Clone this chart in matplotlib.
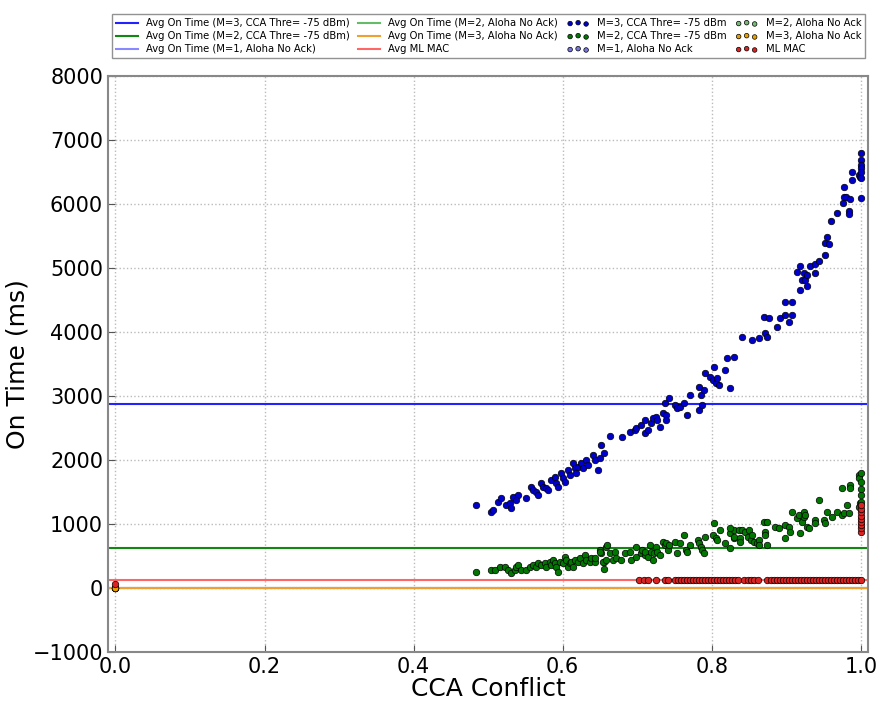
import numpy as np
import matplotlib.pyplot as plt

# Average on-time lines (ms)
avg_m3_cca = 2875
avg_m2_cca = 625
avg_m1_aloha = 0
avg_m2_aloha = 0
avg_m3_aloha = 0
avg_ml = 125

# M=3, CCA Thre= -75 dBm
m3_cca_x = [0.484, 0.504, 0.507, 0.513, 0.517, 0.524, 0.529, 0.531, 0.533, 0.540, 0.537, 0.551, 0.557, 0.560,
            0.564, 0.567, 0.571, 0.574, 0.578, 0.580, 0.584, 0.590, 0.591, 0.594, 0.598, 0.600, 0.603, 0.607,
            0.610, 0.614, 0.616, 0.618, 0.620, 0.624, 0.627, 0.631, 0.634, 0.640, 0.643, 0.647, 0.650, 0.651,
            0.656, 0.663, 0.680, 0.690, 0.697, 0.698, 0.705, 0.710, 0.711, 0.714, 0.718, 0.721, 0.725, 0.727,
            0.731, 0.734, 0.738, 0.738, 0.737, 0.743, 0.750, 0.754, 0.758, 0.763, 0.767, 0.771, 0.783, 0.785,
            0.790, 0.783, 0.787, 0.791, 0.798, 0.801, 0.803, 0.805, 0.807, 0.810, 0.818, 0.821, 0.824, 0.830,
            0.841, 0.854, 0.864, 0.872, 0.874, 0.870, 0.877, 0.888, 0.892, 0.898, 0.898, 0.904, 0.908, 0.908,
            0.914, 0.918, 0.918, 0.921, 0.924, 0.925, 0.928, 0.928, 0.932, 0.939, 0.939, 0.944, 0.952, 0.952,
            0.955, 0.957, 0.960, 0.968, 0.976, 0.977, 0.980, 0.984, 0.984, 0.985, 0.977, 0.988, 0.988, 0.997,
            0.999, 1.000, 1.000, 1.000, 1.000, 1.000, 1.000, 1.000, 0.0]
m3_cca_y = [1297, 1188, 1219, 1344, 1406, 1297, 1328, 1250, 1422, 1453, 1375, 1406, 1578, 1531,
            1500, 1453, 1641, 1578, 1562, 1531, 1688, 1734, 1641, 1578, 1797, 1719, 1656, 1844,
            1766, 1953, 1875, 1797, 1891, 1953, 1875, 2000, 1922, 2078, 2000, 1844, 2031, 2234,
            2109, 2375, 2359, 2438, 2469, 2500, 2547, 2625, 2422, 2469, 2578, 2656, 2672, 2625,
            2516, 2734, 2703, 2625, 2891, 2969, 2859, 2812, 2828, 2891, 2703, 3016, 3141, 3016,
            3094, 2781, 2859, 3359, 3297, 3250, 3453, 3203, 3281, 3172, 3406, 3594, 3125, 3609,
            3922, 3875, 3906, 3984, 3922, 4234, 4219, 4078, 4219, 4266, 4469, 4156, 4469, 4266,
            4938, 5031, 4656, 4812, 4922, 4812, 4891, 4719, 5031, 4922, 5062, 5109, 5203, 5391,
            5484, 5375, 5734, 5859, 6016, 6109, 6109, 5891, 5844, 6078, 6266, 6500, 6375, 6453,
            6422, 6797, 6688, 6609, 6562, 6500, 6406, 6094, 0]

# M=2, CCA Thre= -75 dBm
m2_cca_x = [0.484, 0.504, 0.509, 0.516, 0.523, 0.527, 0.531, 0.536, 0.537, 0.540, 0.544, 0.551, 0.556, 0.560,
            0.564, 0.567, 0.571, 0.576, 0.578, 0.583, 0.584, 0.587, 0.590, 0.591, 0.594, 0.596, 0.600, 0.603,
            0.604, 0.607, 0.610, 0.611, 0.614, 0.616, 0.620, 0.623, 0.627, 0.630, 0.631, 0.636, 0.638, 0.643,
            0.644, 0.650, 0.651, 0.656, 0.658,
            0.650, 0.654, 0.656, 0.658, 0.660, 0.663, 0.667, 0.670, 0.671, 0.678, 0.683, 0.690, 0.691, 0.698,
            0.698, 0.705, 0.707, 0.710, 0.711, 0.714, 0.717, 0.718, 0.721, 0.723, 0.725, 0.727, 0.730, 0.734,
            0.737, 0.738, 0.741, 0.743, 0.750, 0.754, 0.758, 0.763, 0.765, 0.767, 0.771, 0.781, 0.783, 0.785,
            0.787, 0.790, 0.791, 0.801, 0.803, 0.805, 0.807, 0.811, 0.818, 0.824, 0.830, 0.830,
            0.824, 0.824, 0.830, 0.837, 0.838, 0.838, 0.841, 0.845, 0.848, 0.850, 0.852, 0.854, 0.857, 0.861,
            0.864, 0.864, 0.870, 0.872, 0.872, 0.874, 0.874, 0.885, 0.890, 0.898, 0.898, 0.904, 0.905, 0.908,
            0.914, 0.917, 0.918, 0.921, 0.924, 0.924, 0.925, 0.928, 0.930, 0.939, 0.939, 0.944, 0.950, 0.952,
            0.955, 0.961, 0.968, 0.975, 0.977, 0.975, 0.981, 0.984, 0.985, 0.985, 0.997, 0.997, 0.997, 0.999,
            1.000, 1.000, 1.000, 1.000, 1.000, 0.0]
m2_cca_y = [250, 281, 281, 328, 328, 281, 234, 281, 328, 359, 281, 281, 328, 359,
            328, 391, 359, 391, 328, 406, 359, 438, 391, 328, 250, 406, 391, 484,
            438, 328, 391, 406, 328, 438, 406, 469, 391, 516, 438, 406, 469, 406,
            469, 594, 547, 406, 641,
            562, 406, 297, 438, 672, 547, 438, 562, 469, 438, 547, 562, 438, 641,
            484, 547, 594, 516, 562, 484, 672, 562, 438, 547, 641, 562, 516, 719,
            672, 703, 594, 672, 719, 547, 703, 828, 594, 562, 672, 750, 703, 641,
            594, 547, 797, 828, 1016, 781, 750, 906, 703, 859, 906, 781,
            938, 625, 797, 906, 781, 719, 906, 875, 797, 906, 750, 828, 719, 703,
            750, 672, 1031, 875, 828, 672, 1031, 953, 938, 984, 781, 953, 875, 1188,
            1094, 1141, 859, 1031, 1188, 1109, 1141, 953, 938, 1062, 1016, 1375, 1062, 1016,
            1188, 1109, 1188, 1141, 1172, 1562, 1297, 1172, 1609, 1562, 1766, 1719, 1266, 1328,
            1344, 1450, 1550, 1650, 1800, 0]

# Aloha No Ack runs all sit at the origin
m1_aloha_x = [0.0]
m1_aloha_y = [0]
m2_aloha_x = [0.0]
m2_aloha_y = [0]
m3_aloha_x = [0.0]
m3_aloha_y = [0]

# ML MAC
ml_x = [0.0, 0.703, 0.709, 0.714, 0.725, 0.737, 0.741, 0.751, 0.755, 0.759, 0.763, 0.767, 0.771, 0.775,
        0.779, 0.783, 0.787, 0.791, 0.795, 0.799, 0.803, 0.807, 0.811, 0.815, 0.819, 0.823, 0.827, 0.831,
        0.835, 0.843, 0.849, 0.852, 0.856, 0.862, 0.874, 0.880, 0.884, 0.888, 0.892, 0.896, 0.900, 0.904,
        0.908, 0.912, 0.916, 0.920, 0.924, 0.928, 0.932, 0.936, 0.940, 0.944, 0.948, 0.952, 0.956, 0.960,
        0.964, 0.968, 0.972, 0.976, 0.980, 0.984, 0.988, 0.992, 0.996, 1.000,
        1.000, 1.000, 1.000, 1.000, 1.000, 1.000, 1.000, 1.000, 1.000]
ml_y = [62, 125, 125, 120, 125, 125, 130, 125, 120, 125, 125, 130, 125, 125,
        120, 125, 125, 125, 130, 125, 125, 120, 125, 125, 125, 130, 125, 125,
        120, 125, 125, 125, 130, 125, 125, 120, 125, 125, 125, 130, 125, 125,
        120, 125, 125, 125, 130, 125, 125, 125, 120, 125, 125, 125, 130, 125,
        125, 120, 125, 125, 125, 130, 125, 125, 120, 125,
        880, 930, 980, 1030, 1080, 1130, 1180, 1240, 1300]

fig = plt.figure(figsize=(8.77, 7.02), dpi=100)
ax = fig.add_axes([0.1231, 0.0712, 0.867, 0.8205])

# Average lines
l1 = ax.axhline(avg_m3_cca, color='#2222ff', lw=1.5, label='Avg On Time (M=3, CCA Thre= -75 dBm)')
l2 = ax.axhline(avg_m2_cca, color='#118811', lw=1.5, label='Avg On Time (M=2, CCA Thre= -75 dBm)')
l3 = ax.axhline(avg_m1_aloha, color='#8888ff', lw=1.5, label='Avg On Time (M=1, Aloha No Ack)')
l4 = ax.axhline(avg_m2_aloha, color='#66bb66', lw=1.5, label='Avg On Time (M=2, Aloha No Ack)')
l5 = ax.axhline(avg_m3_aloha, color='#f0a030', lw=1.5, label='Avg On Time (M=3, Aloha No Ack)')
l6 = ax.axhline(avg_ml, color='#ff6666', lw=1.5, label='Avg ML MAC')

# Scatter points
kw = dict(s=22, edgecolors='black', linewidths=0.5, zorder=3)
s1 = ax.scatter(m3_cca_x, m3_cca_y, c='#0000cc', label='M=3, CCA Thre= -75 dBm', **kw)
s2 = ax.scatter(m2_cca_x, m2_cca_y, c='#007700', label='M=2, CCA Thre= -75 dBm', **kw)
s3 = ax.scatter(m1_aloha_x, m1_aloha_y, c='#7777dd', label='M=1, Aloha No Ack', **kw)
s4 = ax.scatter(m2_aloha_x, m2_aloha_y, c='#77bb77', label='M=2, Aloha No Ack', **kw)
s5 = ax.scatter(m3_aloha_x, m3_aloha_y, c='#e8a000', label='M=3, Aloha No Ack', **kw)
s6 = ax.scatter(ml_x, ml_y, c='#dd2222', label='ML MAC', **kw)

ax.set_xlim(-0.01, 1.01)
ax.set_ylim(-1000, 8000)
ax.set_xticks(np.arange(0, 1.01, 0.2))
ax.set_yticks(np.arange(-1000, 8001, 1000))
ax.grid(True, color='#bbbbbb', linestyle=':', linewidth=1)
ax.tick_params(direction='in', labelsize=15, length=5, color='#555555')
for sp in ax.spines.values():
    sp.set_color('#888888')
    sp.set_linewidth(1.5)

ax.set_xlabel('CCA Conflict', fontsize=18, labelpad=0)
ax.set_ylabel('On Time (ms)', fontsize=18, labelpad=2)

handles = [l1, l2, l3, l4, l5, l6, s1, s2, s3, s4, s5, s6]
leg = ax.legend(handles=handles, loc='lower left', bbox_to_anchor=(0.005, 1.031, 0.991, 0.087),
                mode='expand', ncol=4, fontsize=7.2, scatterpoints=3, markerscale=0.7,
                scatteryoffsets=[0.375, 0.5, 0.3125], fancybox=False, borderaxespad=0,
                handlelength=2.2, handletextpad=0.8, labelspacing=0.3)
leg.get_frame().set_edgecolor('#777777')

fig.savefig('out.png', dpi=100)
